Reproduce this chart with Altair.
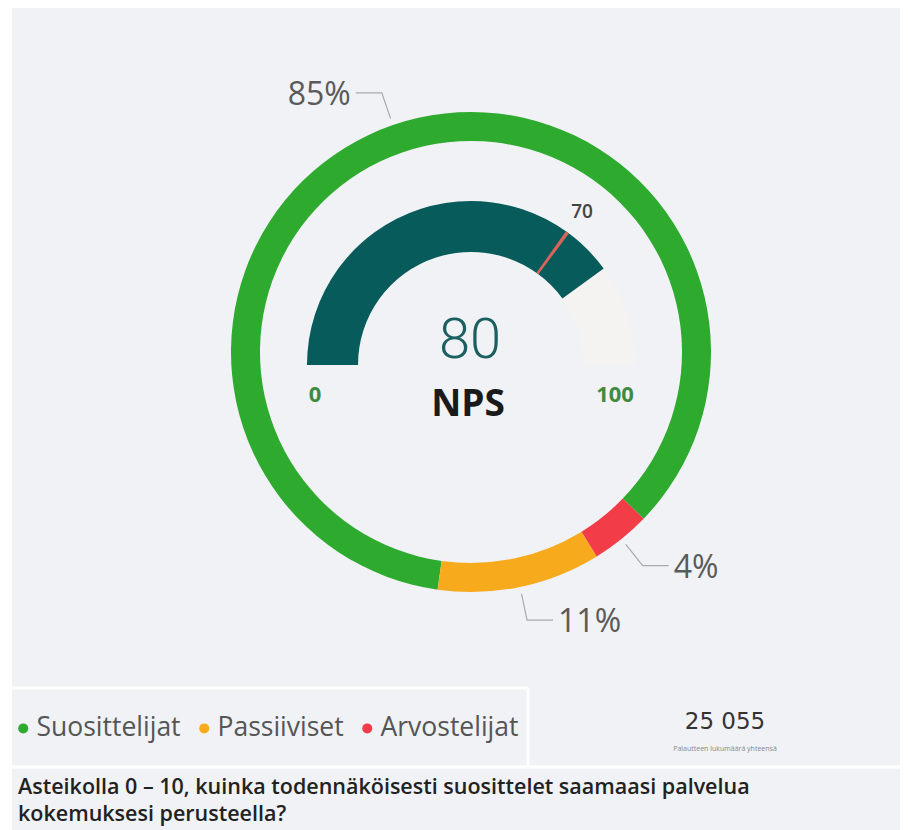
import math
import altair as alt
import pandas as pd

# ---------------- data ----------------
categories = ["Suosittelijat", "Passiiviset", "Arvostelijat"]
shares = [85, 11, 4]
pct_labels = ["85%", "11%", "4%"]
colors = ["#2eab2e", "#f6aa1c", "#f23c48"]
stack_order = [2, 1, 0]          # clockwise drawing order (red, orange, green)

nps_value = 80
nps_target = 70
gauge_min, gauge_max = 0, 100
total_responses = "25 055"
total_caption = "Palautteen lukumäärä yhteensä"
question_text = ("Asteikolla 0 – 10, kuinka todennäköisesti suosittelet saamaasi palvelua\n"
                 "kokemuksesi perusteella?")

# ---------------- layout ----------------
W, H = 892, 822
cx, cy = 463, 344          # donut centre
gx, gy = 463, 357          # gauge centre
R_OUT, R_IN = 240, 211
G_OUT, G_IN = 164, 113
START_DEG = 134
FONT = "Open Sans"
BG = "#f0f2f5"

donut_df = pd.DataFrame({"cat": categories, "share": shares, "ord": stack_order, "lab": pct_labels})

theta_donut = alt.Scale(domain=[0, 100],
                        range=[math.radians(START_DEG), math.radians(START_DEG) + 2 * math.pi])
theta_gauge = alt.Scale(domain=[gauge_min, gauge_max], range=[-math.pi / 2, math.pi / 2])

# leader lines from the slice mid angles
line_rows, text_rows = [], []
cum = 0
for _, r in donut_df.sort_values("ord").iterrows():
    mid = math.radians(START_DEG + (cum + r["share"] / 2) * 3.6)
    cum += r["share"]
    s, c = math.sin(mid), math.cos(mid)
    p1 = (cx + 247 * s, cy - 247 * c)
    p2 = (cx + 274 * s, cy - 274 * c)
    side = 1 if s > 0 else -1
    p3 = (p2[0] + side * 26, p2[1])
    for i, p in enumerate([p1, p2, p3]):
        line_rows.append({"cat": r["cat"], "seq": i, "x": p[0], "y": p[1]})
    text_rows.append({"lab": r["lab"], "x": p3[0] + side * 5, "y": p3[1] + 2,
                      "side": "right" if side > 0 else "left"})
lines_df = pd.DataFrame(line_rows)
texts_df = pd.DataFrame(text_rows)

one = pd.DataFrame({"a": [0]})

# ---------------- background panels ----------------
sep = alt.Chart(one)
sep_h1 = sep.mark_rule(color="white", strokeWidth=3).encode(
    x=alt.value(4), x2=alt.value(520), y=alt.value(680))
sep_h2 = sep.mark_rule(color="white", strokeWidth=3).encode(
    x=alt.value(0), x2=alt.value(W), y=alt.value(759))
sep_v = sep.mark_rule(color="white", strokeWidth=3).encode(
    x=alt.value(520), y=alt.value(680), y2=alt.value(759))
sep_l = sep.mark_rule(color="white", strokeWidth=4).encode(
    x=alt.value(2), y=alt.value(0), y2=alt.value(H))

# ---------------- donut ----------------
donut = alt.Chart(donut_df).mark_arc(radius=R_OUT, innerRadius=R_IN).encode(
    theta=alt.Theta("share:Q", stack=True, scale=theta_donut),
    order=alt.Order("ord:Q"),
    color=alt.Color("cat:N", scale=alt.Scale(domain=categories, range=colors),
                    legend=alt.Legend(title=None, orient="none", legendX=2, legendY=707,
                                      direction="horizontal", symbolType="circle",
                                      symbolSize=100, symbolStrokeWidth=0, symbolOpacity=1,
                                      labelFont=FONT, labelFontSize=26.5, labelColor="#555555",
                                      labelOffset=0, columnPadding=10, padding=0)),
    x=alt.value(cx), y=alt.value(cy),
)

leaders = alt.Chart(lines_df).mark_line(color="#aaaaaa", strokeWidth=1.2).encode(
    x=alt.X("x:Q", scale=None, axis=None), y=alt.Y("y:Q", scale=None, axis=None),
    detail="cat:N", order="seq:Q")

pct_right = alt.Chart(texts_df).transform_filter("datum.side == 'right'").mark_text(
    align="left", baseline="middle", font=FONT, fontSize=32, color="#5a5a5a").encode(
    x=alt.X("x:Q", scale=None), y=alt.Y("y:Q", scale=None), text="lab:N")
pct_left = alt.Chart(texts_df).transform_filter("datum.side == 'left'").mark_text(
    align="right", baseline="middle", font=FONT, fontSize=32, color="#5a5a5a").encode(
    x=alt.X("x:Q", scale=None), y=alt.Y("y:Q", scale=None), text="lab:N")

# ---------------- gauge ----------------
gauge_df = pd.DataFrame({"start": [gauge_min, gauge_min], "end": [gauge_max, nps_value],
                         "kind": ["track", "value"]})
g_track = alt.Chart(gauge_df).transform_filter("datum.kind == 'track'").mark_arc(
    radius=G_OUT, innerRadius=G_IN, color="#f5f3f1").encode(
    theta=alt.Theta("start:Q", scale=theta_gauge), theta2="end:Q",
    x=alt.value(gx), y=alt.value(gy))
g_fill = alt.Chart(gauge_df).transform_filter("datum.kind == 'value'").mark_arc(
    radius=G_OUT, innerRadius=G_IN, color="#075b5b").encode(
    theta=alt.Theta("start:Q", scale=theta_gauge), theta2="end:Q",
    x=alt.value(gx), y=alt.value(gy))

target_df = pd.DataFrame({"t0": [nps_target - 0.35], "t1": [nps_target + 0.35], "t": [nps_target],
                          "lab": [str(nps_target)]})
g_target = alt.Chart(target_df).mark_arc(radius=G_OUT, innerRadius=G_IN, color="#d9645c").encode(
    theta=alt.Theta("t0:Q", scale=theta_gauge), theta2="t1:Q",
    x=alt.value(gx), y=alt.value(gy))
g_target_lab = alt.Chart(target_df).mark_text(
    radius=189, font=FONT, fontSize=19, fontWeight=600, color="#444444",
    align="center", baseline="middle").encode(
    theta=alt.Theta("t:Q", scale=theta_gauge), text="lab:N",
    x=alt.value(gx), y=alt.value(gy))

ends_df = pd.DataFrame({"lab": [str(gauge_min), str(gauge_max)], "px": [307, 607]})
g_ends = alt.Chart(ends_df).mark_text(font=FONT, fontSize=22, fontWeight=700, color="#3f8a3f",
                                      align="center", baseline="middle").encode(
    x=alt.X("px:Q", scale=None), y=alt.value(387), text="lab:N")

val_df = pd.DataFrame({"v": [str(nps_value)]})
g_value = alt.Chart(val_df).mark_text(font="Roboto", fontSize=56,
                                      fontWeight=300, color="#1b5f60",
                                      align="center", baseline="middle").encode(
    x=alt.value(gx - 1), y=alt.value(333), text="v:N")
g_name = alt.Chart(pd.DataFrame({"v": ["NPS"]})).mark_text(
    font=FONT, fontSize=37, fontWeight=700, color="#1a1a1a",
    align="center", baseline="middle").encode(
    x=alt.value(gx - 3), y=alt.value(397), text="v:N")

# ---------------- totals & question ----------------
tot = alt.Chart(pd.DataFrame({"v": [total_responses]})).mark_text(
    font="DejaVu Sans", fontSize=23, fontWeight=400, color="#333333",
    align="center", baseline="middle").encode(x=alt.value(717), y=alt.value(714), text="v:N")
cap = alt.Chart(pd.DataFrame({"v": [total_caption]})).mark_text(
    font=FONT, fontSize=7, color="#888888",
    align="center", baseline="middle").encode(x=alt.value(717), y=alt.value(741), text="v:N")

question = alt.Chart(pd.DataFrame({"v": [question_text]})).mark_text(
    font=FONT, fontSize=21.5, fontWeight=600, color="#222222",
    align="left", baseline="middle", lineBreak="\n", lineHeight=27).encode(
    x=alt.value(10), y=alt.value(780), text="v:N")

chart = alt.layer(
    sep_l, sep_h1, sep_h2, sep_v,
    donut, leaders, pct_right, pct_left,
    g_track, g_fill, g_target, g_target_lab, g_ends, g_value, g_name,
    tot, cap, question,
).resolve_scale(theta="independent", color="independent").properties(
    width=W, height=H, padding=0, autosize="none", background="white"
).configure_view(fill=BG, stroke=None)

chart.save("out.html", embed_options={"renderer": "svg", "actions": False})
